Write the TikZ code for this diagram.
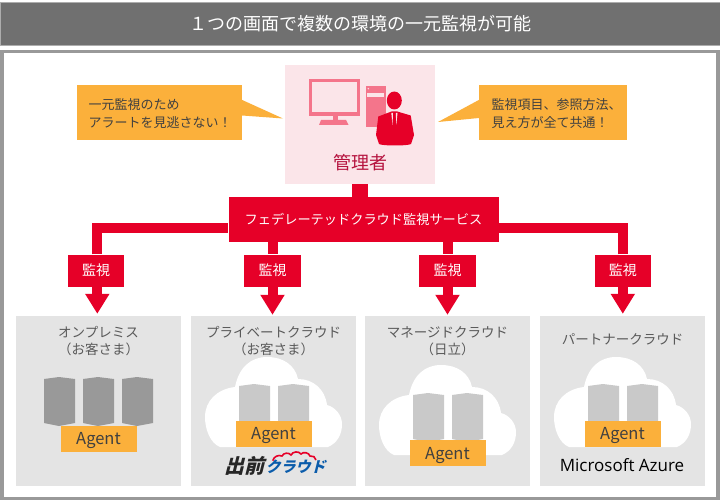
\documentclass[tikz,border=0pt]{standalone}
\usepackage{fontspec}
\setmainfont{Noto Sans CJK JP}
\newfontfamily\azurefont{Open Sans}
\newfontfamily\logofont[BoldFeatures={FakeSlant=0.25}]{Noto Sans CJK JP}
\usetikzlibrary{arrows.meta}
\definecolor{titlegray}{HTML}{707070}
\definecolor{framegray}{HTML}{999999}
\definecolor{panelgray}{HTML}{E4E4E4}
\definecolor{servergray}{HTML}{999999}
\definecolor{cloudserver}{HTML}{C9C9C9}
\definecolor{feedred}{HTML}{E60028}
\definecolor{adminpink}{HTML}{FBE5E9}
\definecolor{iconpink}{HTML}{F4758B}
\definecolor{adminred}{HTML}{B5123E}
\definecolor{noteorange}{HTML}{FBB03B}
\definecolor{textgray}{HTML}{595959}
\definecolor{notetext}{HTML}{404040}
\definecolor{logoblue}{HTML}{0B5CAB}
\def\fsize#1{\fontsize{#1}{#1}\selectfont}
\tikzset{
  box/.style={inner sep=0pt,minimum width=#1},
  note/.style={box=#1,fill=noteorange,minimum height=55pt},
  notetxt/.style={anchor=west,inner sep=0pt,align=left,text=notetext,font=\fontsize{13}{18}\selectfont},
  watch/.style={box=56.5pt,minimum height=32pt,fill=feedred,text=white,font=\fsize{14}},
  panel/.style={box=165pt,minimum height=170pt,fill=panelgray},
  paneltxt/.style={inner sep=0pt,align=center,text=textgray,font=\fontsize{13.5}{17}\selectfont},
  agent/.style={box=76pt,minimum height=26pt,text height=14.3pt,text depth=2pt,fill=noteorange,text=notetext,font=\fsize{16.5}},
  feed/.style={draw=feedred,line width=10pt},
  feedarrow/.style={feed,-{Triangle[length=20pt,width=23pt]},shorten >=2pt},
  server/.pic={
    \path[pic actions] (0,2) -- (15,0) -- (31,2) -- (31,46) -- (15,49) -- (0,46) -- cycle;
  },
  cloud/.pic={
    \fill[white] (15,90) .. controls (5,86) and (0,72) .. (0,60)
      .. controls (0,44) and (12,32) .. (30,30)
      .. controls (34,10) and (46,0) .. (62,0)
      .. controls (78,0) and (90,8) .. (93,22)
      .. controls (108,22) and (120,32) .. (122,48)
      .. controls (130,50) and (137,58) .. (137,67)
      .. controls (137,78) and (132,86) .. (123,90) -- cycle;
  },
}
\begin{document}
\begin{tikzpicture}[x=1pt,y=-1pt]
  \useasboundingbox (0,0) rectangle (720,500);
  \node[box=720pt,minimum height=43pt,fill=titlegray,draw=framegray!80,line width=1pt,text=white,font=\fsize{18}] (title) at (360,24) {１つの画面で複数の環境の一元監視が可能};
  \node[box=716pt,minimum height=447pt,fill=white,draw=framegray,line width=3.5pt] (frame) at (360,275) {};

  \node[box=150pt,minimum height=119pt,fill=adminpink] (admin) at (360,124.5) {};
  \node[inner sep=0pt,text=adminred,font=\fsize{18}] (adminlabel) at (360,163) {管理者};
  \fill[iconpink] (309,79) rectangle (360,116);
  \fill[adminpink] (312,82) rectangle (357,112.5);
  \fill[iconpink] (332.7,116) rectangle (337.7,120);
  \fill[iconpink] (321,120) -- (346,120) -- (348.5,125) -- (319,125) -- cycle;
  \fill[iconpink] (366,86) rectangle (386,127);
  \fill[adminpink] (367,93) rectangle (384,97);
  \fill[adminpink] (368.3,88.7) circle (0.8);
  \fill[feedred] (394.3,100.5) ellipse (7.5 and 9);
  \fill[feedred] (391.5,111.5) -- (378.3,116.5) -- (376,135) -- (379,144) .. controls (382,146) and (408,146) .. (411,144) -- (414,135) -- (410.7,115.5) -- (397.3,111.5) -- cycle;
  \fill[adminpink] (391.3,113) -- (393,113) -- (392.5,125) -- cycle;
  \fill[adminpink] (395.8,113) -- (397.5,113) -- (396.3,125) -- cycle;

  \node[note=165pt] (noteL) at (159.5,112.5) {};
  \coordinate (tipL) at (283,118.5);
  \fill[noteorange] (noteL.east |- 0,100) -- (tipL) -- (noteL.east |- 0,115.5) -- cycle;
  \node[notetxt] (noteLtxt) at (88.5,114) {一元監視のため\\アラートを見逃さない！};
  \node[note=148pt] (noteR) at (553,112.5) {};
  \coordinate (tipR) at (438,122);
  \fill[noteorange] (noteR.west |- 0,100) -- (tipR) -- (noteR.west |- 0,118) -- cycle;
  \node[notetxt] (noteRtxt) at (491.5,114) {監視項目、参照方法、\\見え方が全て共通！};

  \node[box=270pt,minimum height=44.5pt,fill=feedred,text=white,font=\fontsize{13.2}{13.2}\selectfont] (service) at (363.5,219.3) {フェデレーテッドクラウド監視サービス};
  \draw[feed,line width=15.5pt] (admin.south) -- (service.north -| admin.south);

  \node[watch] (watchA) at (96,270.5) {監視};
  \node[watch] (watchB) at (272.5,270.5) {監視};
  \node[watch] (watchC) at (447.5,270.5) {監視};
  \node[watch] (watchD) at (622.8,270.5) {監視};
  \coordinate (bus) at (360,228);
  \draw[feed] ([xshift=1pt]watchA.north) |- (service.west |- bus);
  \draw[feed] (watchD.north) |- (service.east |- bus);
  \draw[feed] (watchB |- service.south) -- (watchB.north);
  \draw[feed] (watchC |- service.south) -- (watchC.north);

  \node[panel] (panelA) at (98.5,401) {};
  \node[panel] (panelB) at (273.5,401) {};
  \node[panel] (panelC) at (447.5,401) {};
  \node[panel] (panelD) at (622.5,401) {};
  \draw[feedarrow] ([xshift=1.3pt]watchA.south) -- ([xshift=1.3pt]watchA.south |- panelA.north);
  \draw[feedarrow,shorten >=1pt] (watchB.south) -- (watchB.south |- panelB.north);
  \draw[feedarrow,shorten >=1pt] (watchC.south) -- (watchC.south |- panelC.north);
  \draw[feedarrow] (watchD.south) -- (watchD.south |- panelD.north);

  \node[paneltxt] (labelA) at (98.5,341) {オンプレミス\\（お客さま）};
  \node[paneltxt] (labelB) at (273.5,341) {プライベートクラウド\\（お客さま）};
  \node[paneltxt] (labelC) at (447.5,341) {マネージドクラウド\\（日立）};
  \node[paneltxt] (labelD) at (622.5,339.5) {パートナークラウド};

  \pic[fill=servergray] at (44,377) {server};
  \pic[fill=servergray] at (83,377) {server};
  \pic[fill=servergray] at (122,377) {server};
  \node[agent] (agentA) at (98.5,438.7) {Agent};

  \pic at (205,357) {cloud};
  \pic[fill=cloudserver] at (239,384) {server};
  \pic[fill=cloudserver] at (278,384) {server};
  \node[agent] (agentB) at (273.5,433.8) {Agent};

  \pic at (379,365) {cloud};
  \pic[fill=cloudserver] at (413,393) {server};
  \pic[fill=cloudserver] at (452,393) {server};
  \node[agent] (agentC) at (447.5,453) {Agent};

  \pic at (554,357) {cloud};
  \pic[fill=cloudserver] at (588,384) {server};
  \pic[fill=cloudserver] at (627,384) {server};
  \node[agent] (agentD) at (622.5,433.8) {Agent};

  \node[inner sep=0pt,text=black!85,font=\logofont\bfseries\fsize{20}] (logoA) at (244.5,465.5) {出前};
  \node[inner sep=0pt,text=logoblue,font=\logofont\bfseries\fsize{15}] (logoB) at (295.5,467) {クラウド};
  \draw[feedred,line width=1.6pt] (272.7,460.7) to[bend left=50] (282,456) to[bend left=60] (291,455) to[bend left=60] (301,454) to[bend left=60] (310,456) to[bend left=50] (316,460);
  \node[inner sep=0pt,text=black,font=\azurefont\fsize{17}] (azure) at (622,465) {Microsoft Azure};
\end{tikzpicture}
\end{document}
